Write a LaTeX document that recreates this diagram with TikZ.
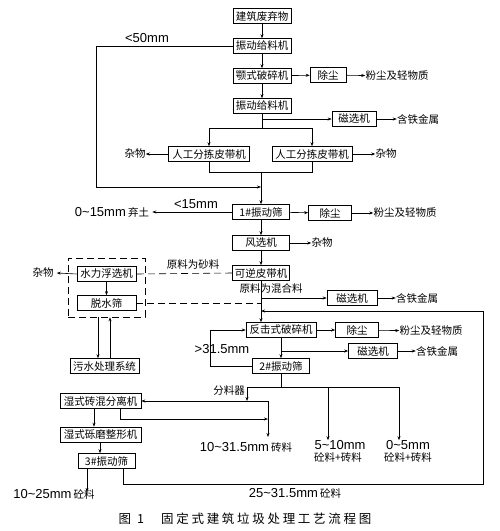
\documentclass[tikz,border=0pt]{standalone}
\usepackage{fontspec}
\setmainfont{Liberation Sans}
\newfontfamily\cjk{Noto Sans CJK SC}
\usetikzlibrary{arrows.meta}
\newcommand\cf{\cjk\fontsize{10.5}{12}\selectfont}
\newcommand\mf{\fontsize{13}{15}\selectfont}
\newcommand\tld{\char"007E\relax}
\newcommand\gapc{\hspace{2.7pt}}
\begin{document}
\begin{tikzpicture}[x=1pt,y=-1pt,
  box/.style={draw, line width=0.6pt, minimum height=15pt, inner sep=0pt, font=\cf},
  lab/.style={inner sep=0pt, font=\cf},
  mml/.style={inner sep=0pt, font=\mf},
  arr/.style={-{Stealth[length=4pt,width=3pt]}, line width=0.6pt},
  ln/.style={line width=0.6pt},
  dsh/.style={line width=0.6pt, dash pattern=on 7pt off 4pt}]
\useasboundingbox (0,0) rectangle (500,531);

% main column
\node[box,minimum width=58pt] (b1) at (262,16) {建筑废弃物};
\node[box,minimum width=58pt] (b2) at (262,46) {振动给料机};
\node[box,minimum width=58pt] (b3) at (262,76) {颚式破碎机};
\node[box,minimum width=36pt] (d1) at (328,75) {除尘};
\node[lab] (td1) at (397,76) {粉尘及轻物质};
\node[box,minimum width=58pt] (b4) at (262,106) {振动给料机};
\node[box,minimum width=44pt] (m1) at (354,119) {磁选机};
\node[lab] (tf1) at (418,119) {含铁金属};
\node[box,minimum width=81pt] (s1) at (209,154) {人工分拣皮带机};
\node[box,minimum width=80pt] (s2) at (312,154) {人工分拣皮带机};
\node[lab] (tz1) at (135,154) {杂物};
\node[lab] (tz2) at (386,154) {杂物};

\node[box,minimum width=57pt] (v1) at (261,212) {1\#振动筛};
\node[box,minimum width=43pt] (d2) at (330,213) {除尘};
\node[lab] (td2) at (405,213) {粉尘及轻物质};
\node[inner sep=0pt] (ts) at (112,212) {{\mf 0\tld15mm\,}{\cf 弃土}};
\node[mml] (l15) at (196,204) {<15mm};
\node[mml] (l50) at (147,38) {<50mm};

\node[box,minimum width=57pt] (f1) at (261,243) {风选机};
\node[lab] (tz3) at (322,243) {杂物};
\node[box,minimum width=57pt] (r1) at (261,273) {可逆皮带机};
\node[lab] (lsand) at (193,264) {原料为砂料};
\node[lab] (lmix) at (271,289) {原料为混合料};

% dashed group
\node[draw,dsh,minimum width=77pt,minimum height=59pt,inner sep=0pt] (db) at (106.5,287.5) {};
\node[box,minimum width=59pt] (h1) at (106.5,274) {水力浮选机};
\node[box,minimum width=59pt] (t1) at (106.5,303) {脱水筛};
\node[lab] (tz4) at (43,273) {杂物};
\node[box,minimum width=69pt] (w1) at (104.5,366) {污水处理系统};

\node[box,minimum width=50pt] (m2) at (352,298) {磁选机};
\node[lab] (tf2) at (417,298) {含铁金属};
\node[box,minimum width=70pt] (c1) at (281,330) {反击式破碎机};
\node[box,minimum width=43pt] (d3) at (357,330) {除尘};
\node[lab] (td3) at (431,331) {粉尘及轻物质};
\node[box,minimum width=49pt] (m3) at (373,351) {磁选机};
\node[lab] (tf3) at (437,351) {含铁金属};
\node[box,minimum width=57pt] (v2) at (281,366) {2\#振动筛};
\node[mml] (l31) at (222,349) {>31.5mm};
\node[lab] (fl) at (229,391) {分料器};

\node[box,minimum width=81pt] (e1) at (100.5,401) {湿式砖混分离机};
\node[box,minimum width=81pt] (e2) at (100.5,434.5) {湿式砾磨整形机};
\node[box,minimum width=57pt] (v3) at (106.5,461) {3\#振动筛};

\node[inner sep=0pt] (o1) at (246,447) {{\mf 10\tld31.5mm\,}{\cf 砖料}};
\node[mml] (o2a) at (340,445) {5\tld10mm};
\node[lab] (o2b) at (338,458) {砼料+砖料};
\node[mml] (o3a) at (408,445) {0\tld5mm};
\node[lab] (o3b) at (408,458) {砼料+砖料};
\node[inner sep=0pt] (o4) at (54,494) {{\mf 10\tld25mm\,}{\cf 砼料}};
\node[inner sep=0pt] (o5) at (295,493) {{\mf 25\tld31.5mm\,}{\cf 砼料}};

\node[inner sep=0pt,font=\cjk\fontsize{12.5}{14}\selectfont] (cap) at (245,519)
 {图\hspace{6pt}1\hspace{17pt}固\gapc 定\gapc 式\gapc 建\gapc 筑\gapc 垃\gapc 圾\gapc 处\gapc 理\gapc 工\gapc 艺\gapc 流\gapc 程\gapc 图};

% coordinates
\coordinate (j1) at (262,128);
\coordinate (j1l) at (209,128);
\coordinate (j1r) at (312,128);
\coordinate (j2) at (261,172);
\coordinate (k50a) at (96,46);
\coordinate (k50b) at (96,187);
\coordinate (k50c) at (261,187);
\coordinate (jm) at (261,303);
\coordinate (lpA) at (123,484);
\coordinate (lpB) at (483,484);
\coordinate (lpC) at (483,311);
\coordinate (lpD) at (261,311);
\coordinate (k31) at (210,366);
\coordinate (k31b) at (210,330);
\coordinate (sp) at (281,387);
\coordinate (spl) at (247,387);
\coordinate (spr) at (399,387);
\coordinate (sm) at (328,387);
\coordinate (fq) at (247,401);
\coordinate (fr) at (268,401);
\coordinate (fd) at (268,437);
\coordinate (er) at (268,419);
\coordinate (eb) at (120,419);

% top connectors
\draw[arr] (b1) -- (b2);
\draw[arr] (b2) -- (b3);
\draw[arr] (b3) -- (b4);
\draw[arr] (b3) -- (d1);
\draw[arr] (d1) -- (td1);
\draw[ln] (b4.south) -- (j1);
\draw[arr] (b4.south |- m1) -- (m1.west);
\draw[arr] (m1) -- (tf1);
\draw[ln] (j1l) -- (j1r);
\draw[arr] (j1l) -- (s1.north);
\draw[arr] (j1r) -- (s2.north);
\draw[arr] (s1.west) -- (tz1.east);
\draw[arr] (s2.east) -- (tz2.west);
\draw[ln] (s1.south) -- (s1.south |- j2) -- (s2.south |- j2) -- (s2.south);
\draw[arr] (j2) -- (v1.north);
\draw[ln] (b2.west) -- (k50a) -- (k50b);
\draw[arr] (k50b) -- (k50c);

\draw[arr] (v1) -- (d2);
\draw[arr] (d2) -- (td2);
\draw[arr] (v1.west) -- ([xshift=3pt]ts.east);
\draw[arr] (v1) -- (f1);
\draw[arr] (f1) -- (tz3);
\draw[arr] (f1) -- (r1);

% dashed links
\draw[dsh] (r1.west) -- (h1.east);
\draw[dsh] (t1.east) -- (jm);
\draw[arr] (h1.west) -- ([xshift=3pt]tz4.east);
\draw[arr] (h1) -- (t1);
\draw[arr] (db.south -| 98,0) -- (w1.north -| 98,0);
\draw[arr] (w1.north -| 110,0) -- (db.south -| 110,0);

% middle
\draw[arr] (r1.south) -- (r1.south |- c1.north);
\draw[arr] (r1.south |- m2) -- (m2.west);
\draw[arr] (m2) -- (tf2);
\draw[arr] (c1) -- (d3);
\draw[arr] (d3) -- (td3);
\draw[arr] (c1) -- (v2);
\draw[arr] (c1.south |- m3) -- (m3.west);
\draw[arr] (m3) -- (tf3);
\draw[ln] (v2.west) -- (k31) -- (k31b);
\draw[arr] (k31b) -- (c1.west);

% recycle loop
\draw[ln] (v3.south -| lpA) -- (lpA) -- (lpB) -- (lpC);
\draw[arr] (lpC) -- (lpD);

% splitter
\draw[ln] (v2.south) -- (sp);
\draw[ln] (spl) -- (spr);
\draw[arr] (sm) -- (sm |- o2a.north) ;
\draw[arr] (spr) -- (spr |- o3a.north);
\draw[arr] (spl) -- (fq);
\draw[arr] (fr) -- (e1.east |- fr);
\draw[arr] (fr) -- (fd);
\draw[ln] (e1.south -| eb) -- (eb);
\draw[arr] (eb) -- (er);
\draw[arr] (e1.south -| 94,0) -- (e2.north -| 94,0);
\draw[arr] (e2.south -| 100,0) -- (v3.north -| 100,0);
\draw[arr] (v3.south -| 87,0) -- ([yshift=-3pt]o4.north -| 87,0);
\end{tikzpicture}
\end{document}
